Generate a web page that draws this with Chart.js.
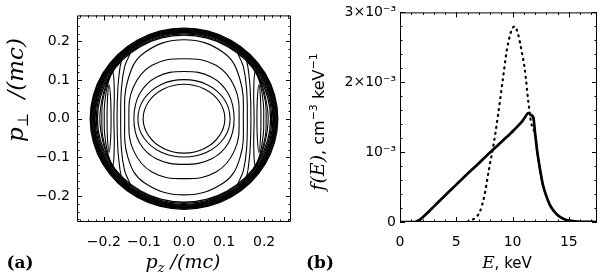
<!DOCTYPE html>
<html>
<head>
<meta charset="utf-8">
<script src="https://cdn.jsdelivr.net/npm/chart.js@4"></script>
<style>
body { margin: 0; background: #fff; }
#wrap { position: relative; width: 600px; height: 273px; }
canvas { position: absolute; top: 0; }
</style>
</head>
<body>
<div id="wrap">
<canvas id="chartA" width="300" height="273" style="left:0"></canvas>
<canvas id="chartB" width="300" height="273" style="left:300px"></canvas>
</div>
<script>
// ---- panel (a): closed contours in (pz, pperp), units of mc ----
var ringRadii = [0.216, 0.219, 0.222, 0.224, 0.226, 0.228, 0.230, 0.232, 0.234];
var ringDirs = [[1,0],[0.966,0.259],[0.866,0.5],[0.707,0.707],[0.5,0.866],[0.259,0.966],
	[0,1],[-0.259,0.966],[-0.5,0.866],[-0.707,0.707],[-0.866,0.5],[-0.966,0.259],
	[-1,0],[-0.966,-0.259],[-0.866,-0.5],[-0.707,-0.707],[-0.5,-0.866],[-0.259,-0.966],
	[0,-1],[0.259,-0.966],[0.5,-0.866],[0.707,-0.707],[0.866,-0.5],[0.966,-0.259]];

var ovals = [
	[[0.102,0],[0.088,0.0445],[0.051,0.077],[0,0.089],[-0.051,0.077],[-0.088,0.0445],[-0.102,0],
	 [-0.088,-0.0445],[-0.051,-0.077],[0,-0.089],[0.051,-0.077],[0.088,-0.0445]],
	[[0.115,0],[0.1,0.051],[0.058,0.088],[0,0.101],[-0.058,0.088],[-0.1,0.051],[-0.115,0],
	 [-0.1,-0.05],[-0.058,-0.086],[0,-0.099],[0.058,-0.086],[0.1,-0.05]],
	[[0.125,0],[0.111,0.064],[0.068,0.108],[0,0.122],[-0.068,0.108],[-0.111,0.064],[-0.125,0],
	 [-0.111,-0.062],[-0.068,-0.104],[0,-0.118],[0.068,-0.104],[0.111,-0.062]],
	[[0.1375,0],[0.127,0.08],[0.08,0.138],[0,0.155],[-0.08,0.138],[-0.127,0.08],[-0.1375,0],
	 [-0.127,-0.08],[-0.08,-0.138],[0,-0.155],[0.08,-0.138],[0.127,-0.08]],
	[[0.148,0],[0.14,0.1],[0.1,0.17],[0,0.204],[-0.1,0.17],[-0.14,0.1],[-0.148,0],
	 [-0.14,-0.1],[-0.1,-0.165],[0,-0.197],[0.1,-0.165],[0.14,-0.1]]
];

var sideLoops = [
	[[-0.182,0],[-0.183,0.05],[-0.187,0.088],[-0.191,0.05],[-0.192,0],[-0.191,-0.05],[-0.187,-0.088],[-0.183,-0.05]],
	[[-0.175,0],[-0.174,0.07],[-0.178,0.122],[-0.19,0.09],[-0.198,0.04],[-0.199,0],[-0.198,-0.04],[-0.19,-0.09],[-0.178,-0.122],[-0.174,-0.07]],
	[[-0.167,0],[-0.165,0.08],[-0.16,0.13],[-0.157,0.152],[-0.17,0.135],[-0.19,0.095],[-0.203,0.045],[-0.205,0],
	 [-0.203,-0.045],[-0.19,-0.095],[-0.17,-0.135],[-0.157,-0.152],[-0.16,-0.13],[-0.165,-0.08]],
	[[-0.158,0],[-0.156,0.08],[-0.148,0.135],[-0.134,0.172],[-0.152,0.158],[-0.18,0.12],[-0.2,0.07],[-0.21,0],
	 [-0.2,-0.07],[-0.18,-0.12],[-0.152,-0.158],[-0.134,-0.172],[-0.148,-0.135],[-0.156,-0.08]],
	[[0.182,0],[0.183,0.05],[0.187,0.088],[0.191,0.05],[0.192,0],[0.191,-0.05],[0.187,-0.088],[0.183,-0.05]],
	[[0.175,0],[0.174,0.07],[0.178,0.122],[0.19,0.09],[0.198,0.04],[0.199,0],[0.198,-0.04],[0.19,-0.09],[0.178,-0.122],[0.174,-0.07]],
	[[0.167,0],[0.165,0.08],[0.16,0.13],[0.157,0.152],[0.17,0.135],[0.19,0.095],[0.203,0.045],[0.205,0],
	 [0.203,-0.045],[0.19,-0.095],[0.17,-0.135],[0.157,-0.152],[0.16,-0.13],[0.165,-0.08]],
	[[0.158,0],[0.156,0.08],[0.148,0.135],[0.134,0.172],[0.152,0.158],[0.18,0.12],[0.2,0.07],[0.21,0],
	 [0.2,-0.07],[0.18,-0.12],[0.152,-0.158],[0.134,-0.172],[0.148,-0.135],[0.156,-0.08]]
];

var pzTicks = [-0.2, -0.1, 0, 0.1, 0.2];
var pperpTicks = [-0.2, -0.1, 0, 0.1, 0.2];

// ---- panel (b): f(E), values in units of 1e-3 cm^-3 keV^-1 ----
var energy = [0, 1.0, 1.4, 1.7, 2.0, 3, 4, 5, 6, 6.6, 7.1, 7.5, 7.9, 8.3, 8.7, 9.1, 9.5, 9.9, 10.2, 10.5,
	10.8, 11.1, 11.4, 11.65, 11.85, 12.0, 12.2, 12.45, 12.7, 13.0, 13.3, 13.7, 14.1, 14.6, 15.2, 16, 17.5];
var fSolid = [0, 0, 0.004, 0.025, 0.065, 0.22, 0.38, 0.535, 0.69, 0.78, 0.855, 0.92, 0.98, 1.04, 1.10, 1.16, 1.22, 1.28, 1.33, 1.38,
	1.43, 1.50, 1.56, 1.53, 1.49, 1.27, 1.0, 0.74, 0.53, 0.37, 0.25, 0.15, 0.085, 0.04, 0.015, 0.003, 0];
var fDotted = [null, null, null, null, null, null, null, null, 0.005, 0.05, 0.15, 0.38, 0.75, 1.1, 1.52, 2.0, 2.47, 2.74, 2.8, 2.68,
	2.45, 2.17, 1.72, 1.42, 1.33, 1.25, 1.0, 0.74, 0.53, 0.37, 0.25, 0.15, 0.085, 0.04, 0.015, 0.003, 0];
var eTicks = [0, 5, 10, 15];
var fTicks = [0, 1, 2, 3];
var fTickLabels = ["0", "10\u207B\u00B3", "2\u00D710\u207B\u00B3", "3\u00D710\u207B\u00B3"];

var tickFont = { family: "DejaVu Sans", size: 14 };
var serifIt = "\"DejaVu Serif\", \"Liberation Serif\", serif";

function pts(list) {
	return list.map(function (p) { return { x: p[0], y: p[1] }; });
}

function steps(from, to, step) {
	var out = [];
	for (var v = from; v <= to + 1e-9; v += step) out.push(Math.round(v * 1000) / 1000);
	return out;
}

// contours are closed curves: tell the line element to wrap around
var closedCurves = {
	id: "closedCurves",
	afterDatasetUpdate: function (chart, args) {
		args.meta.dataset._loop = true;
		args.meta.dataset._fullLoop = true;
	}
};

function frameTicks(xMajor, xMinor, yMajor, yMinor) {
	return {
		id: "frameTicks",
		afterDatasetsDraw: function (chart) {
			var ctx = chart.ctx, a = chart.chartArea;
			var sx = chart.scales.x, sy = chart.scales.y;
			ctx.save();
			ctx.strokeStyle = "#000";
			ctx.lineWidth = 1;
			ctx.beginPath();
			ctx.rect(a.left + 0.5, a.top + 0.5, a.right - a.left - 1, a.bottom - a.top - 1);
			function xt(v, len) {
				var p = Math.round(sx.getPixelForValue(v)) + 0.5;
				ctx.moveTo(p, a.bottom); ctx.lineTo(p, a.bottom - len);
				ctx.moveTo(p, a.top); ctx.lineTo(p, a.top + len);
			}
			function yt(v, len) {
				var p = Math.round(sy.getPixelForValue(v)) + 0.5;
				ctx.moveTo(a.left, p); ctx.lineTo(a.left + len, p);
				ctx.moveTo(a.right, p); ctx.lineTo(a.right - len, p);
			}
			xMajor.forEach(function (v) { xt(v, 5); });
			xMinor.forEach(function (v) { xt(v, 2.5); });
			yMajor.forEach(function (v) { yt(v, 5); });
			yMinor.forEach(function (v) { yt(v, 2.5); });
			ctx.stroke();
			ctx.restore();
		}
	};
}

function drawRich(ctx, parts, cx, cy, angle) {
	ctx.save();
	ctx.translate(cx, cy);
	ctx.rotate(angle);
	ctx.fillStyle = "#000";
	ctx.textAlign = "left";
	ctx.textBaseline = "alphabetic";
	var w = 0;
	parts.forEach(function (p) { ctx.font = p.font; w += ctx.measureText(p.text).width; });
	var x = -w / 2;
	parts.forEach(function (p) {
		ctx.font = p.font;
		ctx.fillText(p.text, x, p.dy || 0);
		x += ctx.measureText(p.text).width;
	});
	ctx.restore();
}

function titles(list) {
	return {
		id: "titles",
		afterDraw: function (chart) {
			list.forEach(function (t) { drawRich(chart.ctx, t.parts, t.x, t.y, t.angle || 0); });
		}
	};
}

function linScale(min, max, values, labelFn, pad, fit) {
	return {
		type: "linear",
		min: min,
		max: max,
		afterBuildTicks: function (s) { s.ticks = values.map(function (v) { return { value: v }; }); },
		afterFit: fit,
		ticks: { font: tickFont, color: "#000", padding: pad, maxRotation: 0, autoSkip: false, callback: labelFn },
		grid: { display: false, drawTicks: false },
		border: { display: false }
	};
}

// ---- chart (a) ----
var setsA = [];
ringRadii.forEach(function (r) {
	setsA.push({ data: pts(ringDirs.map(function (d) { return [r * d[0], r * d[1]]; })), borderWidth: 1.3 });
});
ovals.concat(sideLoops).forEach(function (c) {
	setsA.push({ data: pts(c), borderWidth: 1.1 });
});
setsA.forEach(function (d) {
	d.showLine = true; d.pointRadius = 0; d.borderColor = "#000"; d.tension = 0.4; d.fill = false;
});

function pLabel(v) { return v.toFixed(1).replace("-", "\u2212"); }

new Chart(document.getElementById("chartA"), {
	type: "scatter",
	data: { datasets: setsA },
	options: {
		responsive: false,
		devicePixelRatio: 1,
		animation: false,
		events: [],
		layout: { padding: { left: 0, right: 9, top: 8, bottom: 0 } },
		plugins: { legend: { display: false }, tooltip: { enabled: false } },
		scales: {
			x: linScale(-0.267, 0.267, pzTicks, pLabel, 12, function (s) { s.height = 51; }),
			y: linScale(-0.267, 0.267, pperpTicks, pLabel, 7, function (s) { s.width = 77; })
		}
	},
	plugins: [
		closedCurves,
		frameTicks(pzTicks, steps(-0.26, 0.26, 0.02), pperpTicks, steps(-0.26, 0.26, 0.02)),
		titles([
			{ x: 183, y: 268, parts: [
				{ text: "p", font: "italic 19px " + serifIt },
				{ text: "z", font: "italic 13px " + serifIt, dy: 4 },
				{ text: " /(mc)", font: "italic 19px " + serifIt }] },
			{ x: 23, y: 90, angle: -Math.PI / 2, parts: [
				{ text: "p", font: "italic 23px " + serifIt },
				{ text: "\u22A5", font: "15px " + serifIt, dy: 5 },
				{ text: "  /(mc)", font: "italic 23px " + serifIt }] },
			{ x: 20, y: 268, parts: [{ text: "(a)", font: "bold 17px " + serifIt }] }
		])
	]
});

// ---- chart (b) ----
function series(vals) {
	return energy.map(function (e, i) { return { x: e, y: vals[i] }; });
}

new Chart(document.getElementById("chartB"), {
	type: "scatter",
	data: {
		datasets: [
			{ data: series(fDotted), borderDash: [1, 5], borderCapStyle: "round", borderWidth: 2.2 },
			{ data: series(fSolid), borderWidth: 2.7 }
		].map(function (d) {
			d.showLine = true; d.pointRadius = 0; d.borderColor = "#000";
			d.cubicInterpolationMode = "monotone"; d.fill = false; d.spanGaps = false;
			return d;
		})
	},
	options: {
		responsive: false,
		devicePixelRatio: 1,
		animation: false,
		events: [],
		layout: { padding: { left: 0, right: 3, top: 8, bottom: 0 } },
		plugins: { legend: { display: false }, tooltip: { enabled: false } },
		scales: {
			x: linScale(0, 17.5, eTicks, function (v) { return String(v); }, 12, function (s) { s.height = 51; }),
			y: linScale(0, 3, fTicks, function (v, i) { return fTickLabels[i]; }, 4, function (s) { s.width = 100; })
		}
	},
	plugins: [
		frameTicks(eTicks, steps(1, 17, 1), fTicks, steps(0.2, 2.8, 0.2)),
		titles([
			{ x: 207, y: 268, parts: [
				{ text: "E", font: "italic 17px " + serifIt },
				{ text: ", keV", font: "15px \"DejaVu Sans\"" }] },
			{ x: 24, y: 122, angle: -Math.PI / 2, parts: [
				{ text: "f(E)", font: "italic 19px " + serifIt },
				{ text: ", cm", font: "16px \"DejaVu Sans\"" },
				{ text: "\u22123", font: "11px \"DejaVu Sans\"", dy: -7 },
				{ text: " keV", font: "16px \"DejaVu Sans\"" },
				{ text: "\u22121", font: "11px \"DejaVu Sans\"", dy: -7 }] },
			{ x: 20, y: 268, parts: [{ text: "(b)", font: "bold 17px " + serifIt }] }
		])
	]
});
</script>
</body>
</html>
